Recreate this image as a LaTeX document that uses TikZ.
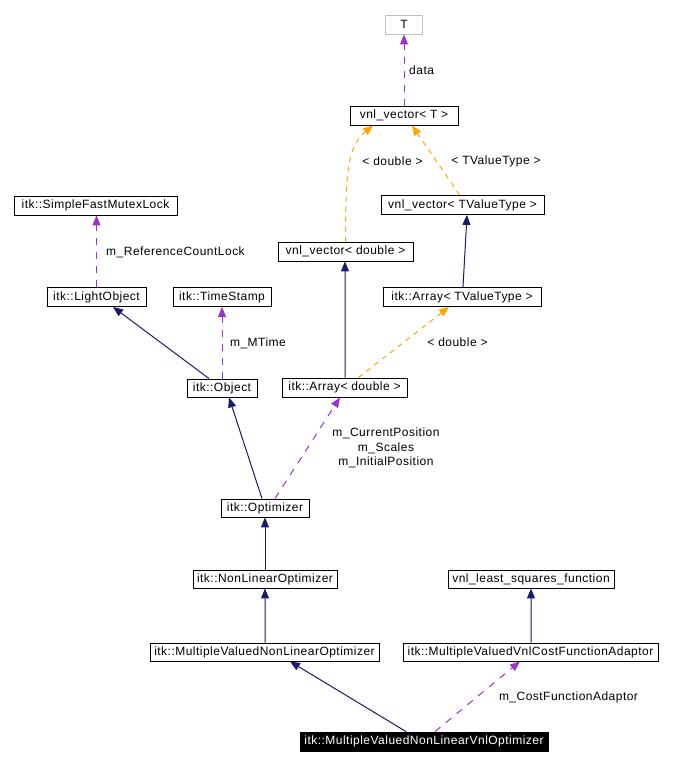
\documentclass[tikz,border=0pt]{standalone}
\usepackage{fontspec}
\setmainfont{Liberation Sans}[LetterSpace=4]
\usetikzlibrary{arrows.meta,calc}
\definecolor{navy}{RGB}{25,25,112}
\definecolor{purp}{RGB}{154,50,205}
\definecolor{orng}{RGB}{255,165,0}
\definecolor{grayb}{RGB}{191,191,191}
\begin{document}
\begin{tikzpicture}[x=1bp,y=-1bp,
  font=\fontsize{12bp}{14bp}\selectfont,
  box/.style={draw=black, line width=0.9bp, inner sep=0pt, minimum height=19bp, anchor=center},
  inh/.style={draw=navy, line width=1bp, -{Triangle[length=10bp,width=8bp]}, color=navy},
  usage/.style={draw=purp, line width=1bp, dash pattern=on 7bp off 7bp, -{Triangle[length=10bp,width=8bp]}, color=purp},
  tmpl/.style={draw=orng, line width=1bp, dash pattern=on 5bp off 5bp, -{Triangle[length=10bp,width=8bp]}, color=orng},
  lbl/.style={inner sep=0pt, anchor=center, text=black}]
\path[use as bounding box] (0,0) rectangle (689,766);

\node[box, draw=grayb, minimum width=37bp] (T) at (404,24.5) {T};
\node[box, minimum width=108bp] (vT) at (404,115.5) {vnl\_vector< T >};
\node[box, minimum width=163bp] (vTV) at (462.5,205) {vnl\_vector< TValueType >};
\node[box, minimum width=135bp] (vd) at (345.5,251.5) {vnl\_vector< double >};
\node[box, minimum width=158bp] (aTV) at (462,297) {itk::Array< TValueType >};
\node[box, minimum width=125bp] (ad) at (344.5,387.5) {itk::Array< double >};
\node[box, minimum width=163bp] (sfml) at (95.5,205.5) {itk::SimpleFastMutexLock};
\node[box, minimum width=99bp] (lo) at (96.5,297) {itk::LightObject};
\node[box, minimum width=98bp] (ts) at (222,297) {itk::TimeStamp};
\node[box, minimum width=70bp, minimum height=18bp] (obj) at (222,388) {itk::Object};
\node[box, minimum width=88bp, minimum height=18bp] (opt) at (265,508) {itk::Optimizer};
\node[box, minimum width=144bp, minimum height=18bp] (nlo) at (265,579) {itk::NonLinearOptimizer};
\node[box, minimum width=229bp, minimum height=18bp] (mvnlo) at (264.5,652) {itk::MultipleValuedNonLinearOptimizer};
\node[box, minimum width=166bp, minimum height=18bp] (vlsf) at (531,579) {vnl\_least\_squares\_function};
\node[box, minimum width=255bp, minimum height=18bp] (mvcfa) at (530.5,652) {itk::MultipleValuedVnlCostFunctionAdaptor};
\node[box, fill=black, text=white, minimum width=248bp] (main) at (424,741.5) {itk::MultipleValuedNonLinearVnlOptimizer};

% edges
\draw[usage] (vT.north) -- (T.south);
\node[lbl, anchor=west] at (409,70) {data};

\draw[tmpl] (vd.north) .. controls ($(vd.north)+(0,-70)$) and ($(vd.north)+(2,-95)$) .. ([xshift=-31bp]vT.south);
\node[lbl] at (392.5,161) {< double >};

\draw[tmpl] ([xshift=-3bp]vTV.north) -- ([xshift=8bp]vT.south);
\node[lbl] at (496,161) {< TValueType >};

\draw[inh] ([xshift=1bp]aTV.north) -- ([xshift=4.5bp]vTV.south);
\draw[inh] ([xshift=0.5bp]ad.north) -- ([xshift=-0.5bp]vd.south);

\draw[tmpl] ([xshift=14bp]ad.north) -- ([xshift=-13bp]aTV.south);
\node[lbl] at (457.5,342) {< double >};

\draw[usage] (lo.north) -- (lo.north |- sfml.south);
\node[lbl] at (175.5,252) {m\_ReferenceCountLock};

\draw[inh] ([xshift=-13bp]obj.north) -- ([xshift=16.5bp]lo.south);
\draw[usage] (obj.north) -- (ts.south);
\node[lbl] at (258,343) {m\_MTime};

\draw[inh] ([xshift=-3bp]opt.north) -- ([xshift=7bp]obj.south);
\draw[usage] ([xshift=10bp]opt.north) -- ([xshift=-4.5bp]ad.south);
\node[lbl, align=center, font=\fontsize{12bp}{14.5bp}\selectfont] at (386,448) {m\_CurrentPosition\\m\_Scales\\m\_InitialPosition};

\draw[inh] (nlo.north) -- (opt.south);
\draw[inh] ([xshift=0.5bp]mvnlo.north) -- (nlo.south);
\draw[inh] ([xshift=0.5bp]mvcfa.north) -- (vlsf.south);

\draw[inh] ([xshift=-18bp]main.north) -- ([xshift=25.5bp]mvnlo.south);
\draw[usage] ([xshift=11bp]main.north) -- ([xshift=-10.5bp]mvcfa.south);
\node[lbl] at (568.5,697) {m\_CostFunctionAdaptor};
\end{tikzpicture}
\end{document}
